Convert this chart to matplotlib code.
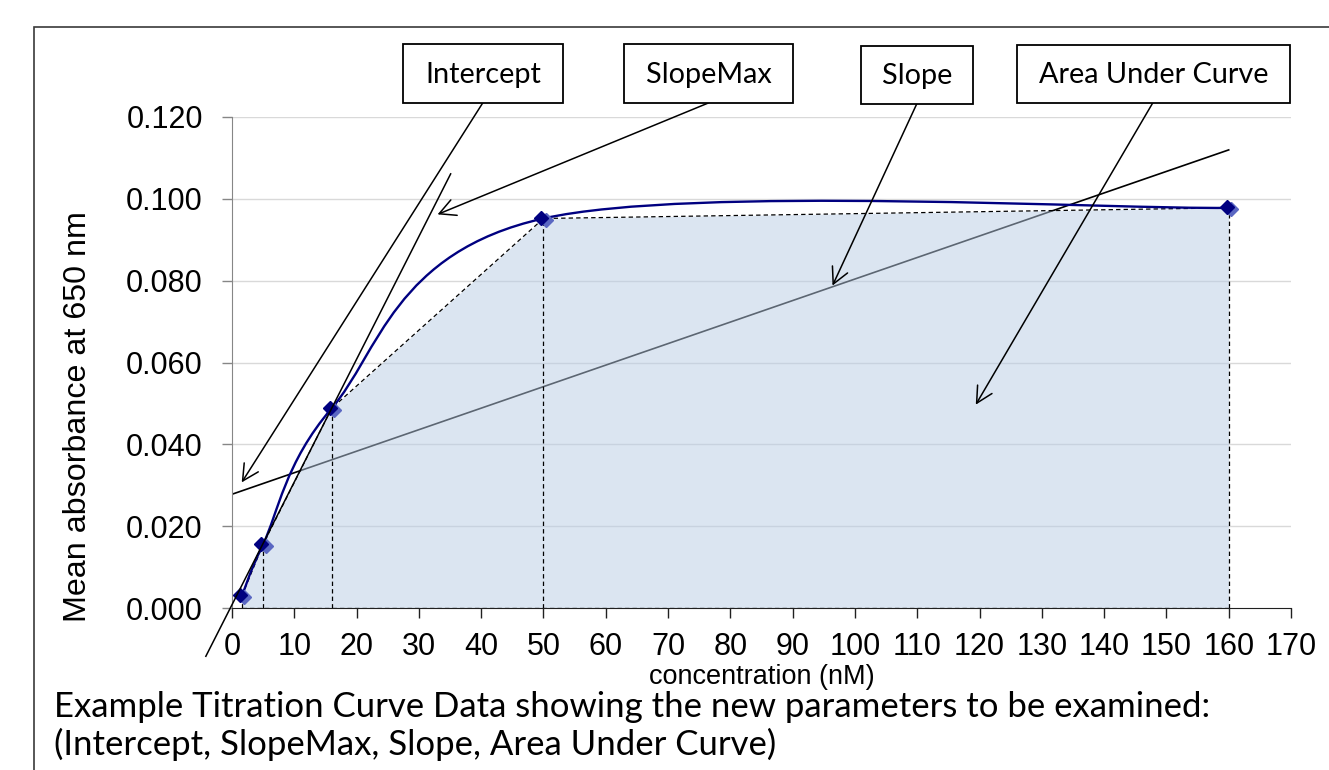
import matplotlib
matplotlib.use("Agg")
import matplotlib.pyplot as plt
from matplotlib.path import Path
from matplotlib.patches import PathPatch, Rectangle
from matplotlib import transforms

# data
conc = [1.6, 5, 16, 50, 160]
absorb = [0.003, 0.0156, 0.0488, 0.0952, 0.0978]

# SlopeMax tangent line and overall Slope line
tangent_slope = 0.0030
tangent_icpt = 0.0008
tangent_x = [-4.2, 35.1]
fit_slope = 0.000526
fit_icpt = 0.0278
fit_x = [0, 160]

xticks = list(range(0, 171, 10))
yticks = [0.0, 0.02, 0.04, 0.06, 0.08, 0.10, 0.12]

W, H = 1329, 770
fig = plt.figure(figsize=(W / 100, H / 100), dpi=100)

def fx(px):
    return px / W

def fy(py):
    return 1 - py / H

ax = fig.add_axes([fx(232), fy(608), (1291 - 232) / W, (608 - 117) / H])
ax.set_xlim(0, 170)
ax.set_ylim(0, 0.12)

# outer chart frame
fig.add_artist(Rectangle((fx(34), fy(800)), fx(1400), (800 - 27) / H,
                         transform=fig.transFigure, fill=False,
                         edgecolor='#3a3a3a', lw=1.2))

# grid
for y in yticks[1:]:
    ax.axhline(y, color='#d9d9d9', lw=1.0, zorder=0)

# overall slope line (under the translucent fill so it looks grey inside it)
fit_y = [fit_icpt + fit_slope * x for x in fit_x]
ax.plot(fit_x, fit_y, color='black', lw=1.2, zorder=1)

# area under curve (trapezoids)
ax.fill_between(conc, absorb, 0, color=(185/255, 205/255, 229/255),
                alpha=0.5, lw=0, zorder=2)

# dashed trapezoid outline
dash = dict(color='black', lw=0.9, ls=(0, (3.5, 2.5)), zorder=3)
ax.plot(conc, absorb, **dash)
ax.plot([conc[0], conc[-1]], [0, 0], **dash)
for x, y in zip(conc, absorb):
    ax.plot([x, x], [0, y], **dash)

# smoothed curve through the points (Excel-like bezier smoothing)
pts = list(zip(conc, absorb))
verts = [pts[0]]
codes = [Path.MOVETO]
n = len(pts)
for i in range(n - 1):
    p0 = pts[i - 1] if i > 0 else pts[i]
    p1 = pts[i]
    p2 = pts[i + 1]
    p3 = pts[i + 2] if i + 2 < n else pts[i + 1]
    c1 = (p1[0] + (p2[0] - p0[0]) / 6, p1[1] + (p2[1] - p0[1]) / 6)
    c2 = (p2[0] - (p3[0] - p1[0]) / 6, p2[1] - (p3[1] - p1[1]) / 6)
    verts += [c1, c2, p2]
    codes += [Path.CURVE4] * 3
ax.add_patch(PathPatch(Path(verts, codes), fill=False, edgecolor='#000080',
                       lw=1.7, zorder=4))

# markers (dark one plus a lighter shadow)
light_tr = transforms.offset_copy(ax.transData, fig, x=2.5, y=-1.5, units='dots')
dark_tr = transforms.offset_copy(ax.transData, fig, x=-2, y=0.5, units='dots')
ax.plot(conc, absorb, ls='none', marker='D', ms=7.5, color='#5a67c2',
        transform=light_tr, zorder=5, clip_on=False)
ax.plot(conc, absorb, ls='none', marker='D', ms=7.5, color='#000080',
        transform=dark_tr, zorder=6, clip_on=False)

# SlopeMax tangent line
tan_y = [tangent_icpt + tangent_slope * x for x in tangent_x]
ax.plot(tangent_x, tan_y, color='black', lw=1.1, zorder=7, clip_on=False)

# axes styling
for s in ['top', 'right']:
    ax.spines[s].set_visible(False)
ax.spines['left'].set_color('#868686')
ax.spines['bottom'].set_color('#202020')
ax.set_xticks(xticks)
ax.set_yticks(yticks)
ax.set_yticklabels(['%.3f' % v for v in yticks])
ax.tick_params(axis='x', direction='out', length=7, width=1, colors='#202020',
               labelcolor='black', pad=10, labelsize=22)
ax.tick_params(axis='y', direction='out', length=7, width=1, colors='#868686',
               labelcolor='black', pad=14, labelsize=22)
for lab in ax.get_xticklabels() + ax.get_yticklabels():
    lab.set_fontfamily('Liberation Sans')

fig.text(fx(78), fy(417), 'Mean absorbance at 650 nm', rotation=90,
         ha='center', va='center', fontsize=23.2, family='Liberation Sans')
fig.text(fx(762), fy(677), 'concentration (nM)', ha='center', va='center',
         fontsize=19.5, family='Liberation Sans')

# caption (sized so the first line spans the same width as in the original)
cap1 = fig.text(fx(54), fy(717),
                'Example Titration Curve Data showing the new parameters to be examined:',
                ha='left', va='baseline', fontsize=25, family='Lato')
cap2 = fig.text(fx(54), fy(755), '(Intercept, SlopeMax, Slope, Area Under Curve)',
                ha='left', va='baseline', fontsize=25, family='Lato')
fig.canvas.draw()
cap_size = 25 * 1158 / cap1.get_window_extent().width
cap1.set_fontsize(cap_size)
cap2.set_fontsize(cap_size)

# callout boxes with arrows
callouts = [
    ('Intercept', (403, 44, 563, 103), (482.7, 103), (1.56, 0.0307)),
    ('SlopeMax', (624, 44, 793, 103), (708.3, 103), (33.0, 0.0962)),
    ('Slope', (861, 46, 973, 104), (916.7, 104), (96.4, 0.0788)),
    ('Area Under Curve', (1017, 45, 1290, 103), (1152.7, 103), (119.4, 0.0497)),
]
box_texts = []
for label, (x0, y0, x1, y1), start, tip in callouts:
    fig.add_artist(Rectangle((fx(x0), fy(y1)), (x1 - x0) / W, (y1 - y0) / H,
                             transform=fig.transFigure, facecolor='white',
                             edgecolor='black', lw=1.3, zorder=10))
    t = fig.text(fx((x0 + x1) / 2), fy((y0 + y1) / 2 + 1), label, ha='center',
                 va='center', fontsize=21, family='Lato', zorder=11)
    box_texts.append(t)
    ax.annotate('', xy=tip, xycoords='data',
                xytext=(fx(start[0]), fy(start[1])), textcoords='figure fraction',
                arrowprops=dict(arrowstyle='->,head_length=0.58,head_width=0.3',
                                mutation_scale=20, lw=1.1, color='black',
                                shrinkA=0, shrinkB=0),
                annotation_clip=False, zorder=9)
fig.canvas.draw()
box_size = 21 * 230 / box_texts[3].get_window_extent().width
for t in box_texts:
    t.set_fontsize(box_size)

fig.savefig('out.png', dpi=100)
